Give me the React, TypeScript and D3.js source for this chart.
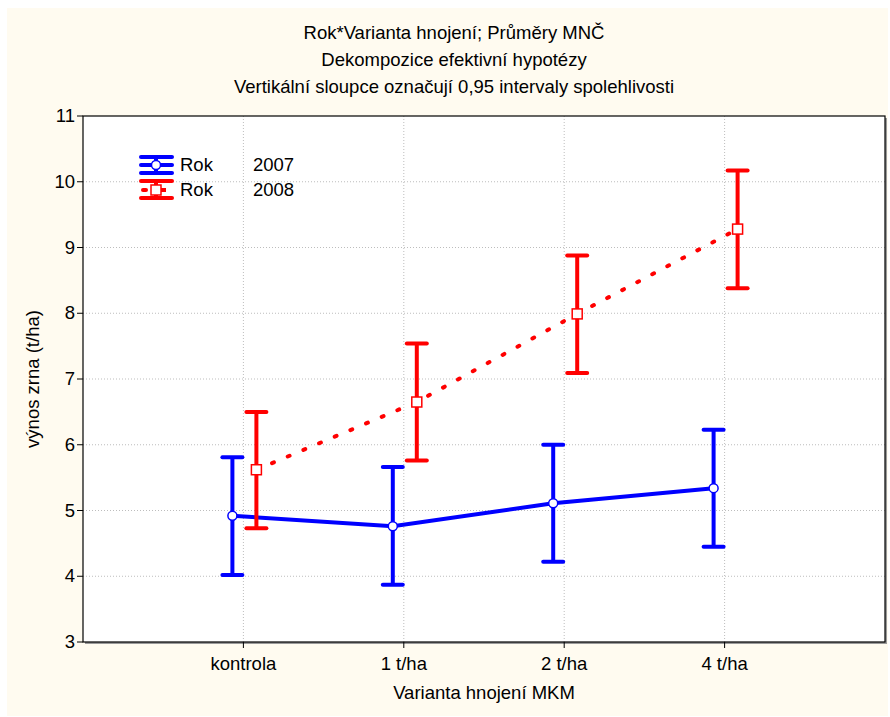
import React from 'react';
import * as d3 from 'd3';

const categories = ['kontrola', '1 t/ha', '2 t/ha', '4 t/ha'];
const yTicks = [3, 4, 5, 6, 7, 8, 9, 10, 11];

const mean2007 = [4.92, 4.76, 5.11, 5.34];
const low2007 = [4.02, 3.87, 4.22, 4.45];
const high2007 = [5.81, 5.66, 6.0, 6.23];

const mean2008 = [5.62, 6.65, 7.99, 9.28];
const low2008 = [4.73, 5.76, 7.09, 8.38];
const high2008 = [6.5, 7.54, 8.88, 10.17];

const titleLines = [
    'Rok*Varianta hnojení; Průměry MNČ',
    'Dekompozice efektivní hypotézy',
    'Vertikální sloupce označují 0,95 intervaly spolehlivosti',
];

const W = 890;
const H = 717;
const margin = { top: 116, right: 5, bottom: 75, left: 83 };
const FONT = '"Liberation Sans", Arial, sans-serif';
const FS = 18.5;
const BLUE = '#0000ff';
const RED = '#ff0000';

export default function App() {
    const x = d3.scaleLinear().domain([0, categories.length + 1]).range([margin.left, W - margin.right]);
    const y = d3.scaleLinear().domain([3, 11]).range([H - margin.bottom, margin.top]);
    const x0 = margin.left, x1 = W - margin.right, y0 = margin.top, y1 = H - margin.bottom;

    const series = [
        { mean: mean2007, low: low2007, high: high2007, color: BLUE, offset: -11, dash: undefined, marker: 'circle' },
        { mean: mean2008, low: low2008, high: high2008, color: RED, offset: 13, dash: '2,15', marker: 'square' },
    ];

    const line = d3.line<number>().x((_, i) => x(i + 1)).y(d => y(d));

    return (
        <svg width={W} height={H} style={{ position: 'absolute', left: 0, top: 0, fontFamily: FONT }}>
            <rect x={7} y={8} width={881} height={708} fill="#fffbf0" />
            {titleLines.map((t, i) => (
                <text key={t} x={454} y={39 + i * 27} textAnchor="middle" fontSize={FS} fill="#000">{t}</text>
            ))}
            <rect x={x0 + 2} y={y0 + 2} width={x1 - x0} height={y1 - y0} fill="#9a9a9a" />
            <rect x={x0} y={y0} width={x1 - x0} height={y1 - y0} fill="#fff" />
            {yTicks.slice(1, -1).map(t => (
                <line key={t} x1={x0} x2={x1} y1={y(t)} y2={y(t)} stroke="#bdbdbd" strokeDasharray="1,2" />
            ))}
            {categories.map((c, i) => (
                <line key={c} x1={x(i + 1)} x2={x(i + 1)} y1={y0} y2={y1} stroke="#bdbdbd" strokeDasharray="1,2" />
            ))}
            <rect x={x0} y={y0} width={x1 - x0} height={y1 - y0} fill="none" stroke="#000" strokeWidth={1.2} />
            {yTicks.map(t => (
                <g key={t}>
                    <line x1={x0 - 6} x2={x0} y1={y(t)} y2={y(t)} stroke="#000" />
                    <text x={x0 - 8} y={y(t) + 6} textAnchor="end" fontSize={FS}>{t}</text>
                </g>
            ))}
            {categories.map((c, i) => (
                <g key={c}>
                    <line x1={x(i + 1)} x2={x(i + 1)} y1={y1} y2={y1 + 6} stroke="#000" />
                    <text x={x(i + 1)} y={y1 + 28} textAnchor="middle" fontSize={FS}>{c}</text>
                </g>
            ))}
            <text x={(x0 + x1) / 2} y={699} textAnchor="middle" fontSize={FS}>Varianta hnojení MKM</text>
            <text transform={`translate(39,${(y0 + y1) / 2}) rotate(-90)`} textAnchor="middle" fontSize={FS}>výnos zrna (t/ha)</text>

            {series.map((s, si) => (
                <g key={si}>
                    <path d={line(s.mean) || ''} transform={`translate(${s.offset},0)`} fill="none" stroke={s.color}
                        strokeWidth={4} strokeDasharray={s.dash} strokeLinecap={s.dash ? 'round' : 'butt'} />
                    {s.mean.map((m, i) => {
                        const cx = x(i + 1) + s.offset;
                        return (
                            <g key={i}>
                                <line x1={cx} x2={cx} y1={y(s.low[i])} y2={y(s.high[i])} stroke={s.color} strokeWidth={4} />
                                <line x1={cx - 10} x2={cx + 10} y1={y(s.low[i])} y2={y(s.low[i])} stroke={s.color} strokeWidth={4} strokeLinecap="round" />
                                <line x1={cx - 10} x2={cx + 10} y1={y(s.high[i])} y2={y(s.high[i])} stroke={s.color} strokeWidth={4} strokeLinecap="round" />
                                {s.marker === 'circle'
                                    ? <circle cx={cx} cy={y(m)} r={4.5} fill="#fff" stroke={s.color} strokeWidth={1.5} />
                                    : <rect x={cx - 5} y={y(m) - 5} width={10} height={10} fill="#fff" stroke={s.color} strokeWidth={1.5} />}
                            </g>
                        );
                    })}
                </g>
            ))}

            {/* legend */}
            <g>
                <line x1={141} x2={172} y1={157} y2={157} stroke={BLUE} strokeWidth={4} strokeLinecap="round" />
                <line x1={141} x2={172} y1={165} y2={165} stroke={BLUE} strokeWidth={4} strokeLinecap="round" />
                <line x1={141} x2={172} y1={173} y2={173} stroke={BLUE} strokeWidth={4} strokeLinecap="round" />
                <line x1={156} x2={156} y1={157} y2={173} stroke={BLUE} strokeWidth={4} />
                <circle cx={156} cy={165} r={4.5} fill="#fff" stroke={BLUE} strokeWidth={1.5} />
                <text x={180} y={171} fontSize={FS}>Rok</text>
                <text x={253} y={171} fontSize={FS}>2007</text>

                <line x1={141} x2={172} y1={181} y2={181} stroke={RED} strokeWidth={4} strokeLinecap="round" />
                <line x1={141} x2={172} y1={198} y2={198} stroke={RED} strokeWidth={4} strokeLinecap="round" />
                <line x1={156} x2={156} y1={181} y2={198} stroke={RED} strokeWidth={4} />
                <line x1={143} x2={146} y1={190} y2={190} stroke={RED} strokeWidth={4} strokeLinecap="round" />
                <line x1={160} x2={166} y1={190} y2={190} stroke={RED} strokeWidth={4} />
                <rect x={151} y={185} width={10} height={10} fill="#fff" stroke={RED} strokeWidth={1.5} />
                <text x={180} y={196} fontSize={FS}>Rok</text>
                <text x={253} y={196} fontSize={FS}>2008</text>
            </g>
        </svg>
    );
}
